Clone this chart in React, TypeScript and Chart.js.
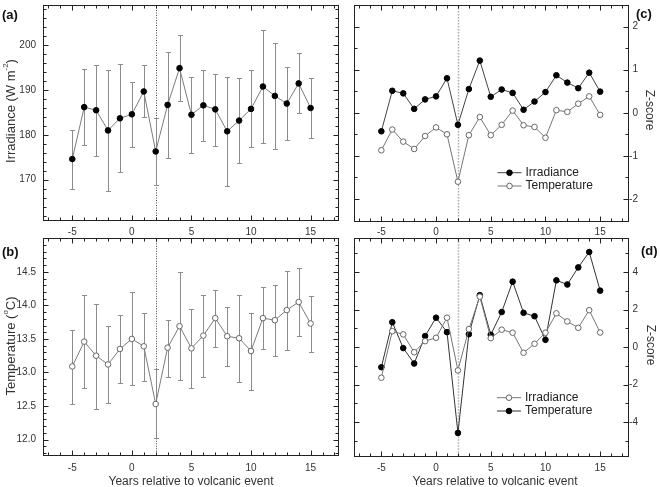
import React, { useEffect, useRef } from "react";
import { Chart, registerables } from "chart.js";

Chart.register(...registerables);

// ---------------- data ----------------
const years = [-5, -4, -3, -2, -1, 0, 1, 2, 3, 4, 5, 6, 7, 8, 9, 10, 11, 12, 13, 14, 15];
const eventYear = 2;
const xTickLabels = [-5, 0, 5, 10, 15];

// (a) irradiance (W m-2): mean and error bar ends
const irrMean = [174.6, 186.2, 185.5, 181.0, 183.7, 184.6, 189.7, 176.3, 186.7, 194.9, 184.5, 186.6, 185.7, 180.8, 183.2, 185.8, 190.8, 188.7, 187.0, 191.5, 186.0];
const irrHigh = [181.0, 194.7, 195.7, 194.5, 195.8, 191.7, 195.5, 183.7, 198.5, 202.2, 193.0, 194.4, 193.7, 193.0, 192.6, 194.4, 203.5, 200.5, 195.1, 198.2, 192.8];
const irrLow = [168.0, 177.7, 175.2, 167.5, 171.7, 177.4, 184.0, 168.9, 174.9, 187.5, 175.9, 178.7, 177.6, 168.5, 173.7, 177.3, 178.1, 176.8, 178.9, 184.8, 179.2];
const irrTicks = [170, 180, 190, 200];

// (b) temperature (°C)
const tempMean = [13.09, 13.46, 13.25, 13.12, 13.35, 13.5, 13.39, 12.53, 13.37, 13.69, 13.36, 13.55, 13.81, 13.54, 13.51, 13.32, 13.81, 13.78, 13.93, 14.05, 13.73];
const tempHigh = [13.63, 14.15, 14.02, 13.69, 13.85, 14.2, 13.88, 13.05, 13.78, 14.5, 13.95, 14.16, 14.23, 13.98, 14.16, 13.89, 14.27, 14.31, 14.52, 14.56, 14.14];
const tempLow = [12.53, 12.77, 12.46, 12.55, 12.85, 12.81, 12.88, 12.02, 12.94, 12.89, 12.77, 12.93, 13.38, 13.1, 12.86, 12.74, 13.35, 13.24, 13.33, 13.54, 13.31];
const tempTicks = [12.0, 12.5, 13.0, 13.5, 14.0, 14.5];

// (c) Z-scores
const zIrrC = [-0.43, 0.51, 0.45, 0.09, 0.31, 0.38, 0.8, -0.28, 0.55, 1.21, 0.37, 0.54, 0.46, 0.07, 0.26, 0.48, 0.87, 0.7, 0.57, 0.93, 0.49];
const zTempC = [-0.87, -0.39, -0.67, -0.84, -0.54, -0.34, -0.5, -1.6, -0.52, -0.1, -0.52, -0.28, 0.05, -0.29, -0.33, -0.58, 0.06, 0.02, 0.21, 0.38, -0.05];
const zTicksC = [-2, -1, 0, 1, 2];

// (d) Z-scores
const zIrrD = [-1.63, 0.85, 0.68, -0.27, 0.32, 0.5, 1.57, -1.24, 0.96, 2.69, 0.48, 0.93, 0.77, -0.3, 0.18, 0.77, 1.8, 1.37, 1.03, 1.97, 0.78];
const zTempD = [-1.07, 1.33, -0.05, -0.87, 0.59, 1.57, 0.8, -4.57, 0.69, 2.77, 0.66, 1.87, 3.49, 1.83, 1.65, 0.39, 3.56, 3.34, 4.25, 5.07, 3.01];
const zTicksD = [-4, -2, 0, 2, 4];

const xTitle = "Years relative to volcanic event";
const zTitle = "Z-score";

// ---------------- layout / style ----------------
const W = 660;
const H = 487;
const FONT = '"Liberation Sans", Arial, Helvetica, sans-serif';
const AXIS = "#222";
const TEXT = "#333";

const pts = (ys: number[]) => years.map((x, i) => ({ x, y: ys[i] }));

type Seg = { text: string; sup?: boolean };

type PanelCfg = {
  area: { l: number; t: number; r: number; b: number };
  x: [number, number];
  y: [number, number];
  yMajor: number[];
  yMinorStep: number;
  yDecimals: number;
  yLabelSide: "left" | "right";
  yLabelX: number;
  xLabelY: number;
  xTitlePos?: [number, number];
  yTitle: Seg[];
  yTitlePos: [number, number];
  yTitleAngle: number;
  tag: string;
  tagPos: [number, number];
  vline: { color: string; dash: number[]; width: number };
  errors?: { high: number[]; low: number[] };
  legend?: { x: number; y: number };
  datasets: any[];
};

const filled = (label: string, data: number[], line: string) => ({
  label,
  data: pts(data),
  borderColor: line,
  borderWidth: 1,
  pointRadius: 2.8,
  pointBackgroundColor: "#000",
  pointBorderColor: "#000",
  pointBorderWidth: 1,
  tension: 0,
});
const open = (label: string, data: number[], line: string, edge: string) => ({
  label,
  data: pts(data),
  borderColor: line,
  borderWidth: 1,
  pointRadius: 2.8,
  pointBackgroundColor: "#fff",
  pointBorderColor: edge,
  pointBorderWidth: 1,
  tension: 0,
});

const panels: PanelCfg[] = [
  {
    area: { l: 42.5, t: 1.5, r: 338, b: 220 },
    x: [-7.5, 17.3],
    y: [161, 209],
    yMajor: irrTicks,
    yMinorStep: 2,
    yDecimals: 0,
    yLabelSide: "left",
    yLabelX: 36,
    xLabelY: 232,
    yTitle: [{ text: "Irradiance (W m" }, { text: "-2", sup: true }, { text: ")" }],
    yTitlePos: [11, 111],
    yTitleAngle: -Math.PI / 2,
    tag: "(a)",
    tagPos: [2, 15],
    vline: { color: "#444", dash: [1, 1.5], width: 1 },
    errors: { high: irrHigh, low: irrLow },
    datasets: [filled("Irradiance", irrMean, "#7c7c7c")],
  },
  {
    area: { l: 42.5, t: 238.3, r: 338, b: 455 },
    x: [-7.5, 17.3],
    y: [11.77, 15.0],
    yMajor: tempTicks,
    yMinorStep: 0.1,
    yDecimals: 1,
    yLabelSide: "left",
    yLabelX: 36,
    xLabelY: 468,
    xTitlePos: [191, 482],
    yTitle: [{ text: "Temperature (" }, { text: "o", sup: true }, { text: "C)" }],
    yTitlePos: [11, 346],
    yTitleAngle: -Math.PI / 2,
    tag: "(b)",
    tagPos: [2, 252],
    vline: { color: "#444", dash: [1, 1.5], width: 1 },
    errors: { high: tempHigh, low: tempLow },
    datasets: [open("Temperature", tempMean, "#7c7c7c", "#666")],
  },
  {
    area: { l: 354, t: 1, r: 627.5, b: 220.5 },
    x: [-7.5, 17.5],
    y: [-2.5, 2.5],
    yMajor: zTicksC,
    yMinorStep: 0.5,
    yDecimals: 0,
    yLabelSide: "right",
    yLabelX: 638,
    xLabelY: 232,
    yTitle: [{ text: zTitle }],
    yTitlePos: [649, 110],
    yTitleAngle: Math.PI / 2,
    tag: "(c)",
    tagPos: [636, 14],
    vline: { color: "#aaa", dash: [1.5, 1.5], width: 1.5 },
    legend: { x: 497.5, y: 172.7 },
    datasets: [filled("Irradiance", zIrrC, "#444"), open("Temperature", zTempC, "#777", "#666")],
  },
  {
    area: { l: 354, t: 238.3, r: 627.5, b: 456 },
    x: [-7.5, 17.5],
    y: [-5.8, 5.8],
    yMajor: zTicksD,
    yMinorStep: 1,
    yDecimals: 0,
    yLabelSide: "right",
    yLabelX: 638,
    xLabelY: 468,
    xTitlePos: [495, 482],
    yTitle: [{ text: zTitle }],
    yTitlePos: [650, 345],
    yTitleAngle: Math.PI / 2,
    tag: "(d)",
    tagPos: [641, 251],
    vline: { color: "#aaa", dash: [1.5, 1.5], width: 1.5 },
    legend: { x: 497, y: 397.7 },
    datasets: [open("Irradiance", zIrrD, "#777", "#666"), filled("Temperature", zTempD, "#333")],
  },
];

// ---------------- drawing helpers ----------------
function steps(min: number, max: number, step: number): number[] {
  const out: number[] = [];
  const s = Math.ceil(min / step - 1e-9);
  const e = Math.floor(max / step + 1e-9);
  for (let i = s; i <= e; i++) out.push(+(i * step).toFixed(6));
  return out;
}
const isMajor = (v: number, majors: number[]) => majors.some((m) => Math.abs(m - v) < 1e-6);
const al = (v: number) => Math.round(v) + 0.5;

function drawRich(ctx: CanvasRenderingContext2D, segs: Seg[], cx: number, cy: number, angle: number, size: number) {
  ctx.save();
  ctx.translate(cx, cy);
  ctx.rotate(angle);
  const supSize = Math.round(size * 0.65);
  let total = 0;
  const widths = segs.map((s) => {
    ctx.font = `${s.sup ? supSize : size}px ${FONT}`;
    const w = ctx.measureText(s.text).width;
    total += w;
    return w;
  });
  let x = -total / 2;
  ctx.textAlign = "left";
  ctx.textBaseline = "middle";
  ctx.fillStyle = TEXT;
  segs.forEach((s, i) => {
    ctx.font = `${s.sup ? supSize : size}px ${FONT}`;
    ctx.fillText(s.text, x, s.sup ? -size * 0.38 : 0);
    x += widths[i];
  });
  ctx.restore();
}

function makePlugin(p: PanelCfg) {
  return {
    id: "panelDecor",
    beforeDatasetsDraw(chart: any) {
      const { ctx, chartArea } = chart;
      const xs = chart.scales.x;
      const ys = chart.scales.y;
      ctx.save();
      // event line
      const vx = al(xs.getPixelForValue(eventYear));
      ctx.strokeStyle = p.vline.color;
      ctx.lineWidth = p.vline.width;
      ctx.setLineDash(p.vline.dash);
      ctx.beginPath();
      ctx.moveTo(vx, chartArea.top);
      ctx.lineTo(vx, chartArea.bottom);
      ctx.stroke();
      ctx.setLineDash([]);
      // error bars
      if (p.errors) {
        ctx.strokeStyle = "#8c8c8c";
        ctx.lineWidth = 1;
        years.forEach((yr, i) => {
          const px = al(xs.getPixelForValue(yr));
          const hi = Math.round(ys.getPixelForValue(p.errors!.high[i])) + 0.5;
          const lo = Math.round(ys.getPixelForValue(p.errors!.low[i])) + 0.5;
          ctx.beginPath();
          ctx.moveTo(px, hi);
          ctx.lineTo(px, lo);
          ctx.moveTo(px - 2.5, hi);
          ctx.lineTo(px + 2.5, hi);
          ctx.moveTo(px - 2.5, lo);
          ctx.lineTo(px + 2.5, lo);
          ctx.stroke();
        });
      }
      ctx.restore();
    },
    afterDatasetsDraw(chart: any) {
      const { ctx, chartArea } = chart;
      const xs = chart.scales.x;
      const ys = chart.scales.y;
      const L = al(chartArea.left);
      const R = al(chartArea.right);
      const T = al(chartArea.top);
      const B = al(chartArea.bottom);
      ctx.save();
      ctx.strokeStyle = AXIS;
      ctx.lineWidth = 1;
      ctx.strokeRect(L, T, R - L, B - T);
      ctx.beginPath();
      // x ticks (major every 5, minor every 1), inward on top and bottom
      steps(p.x[0], p.x[1], 1).forEach((v) => {
        const px = al(xs.getPixelForValue(v));
        const len = v % 5 === 0 ? 5 : 3;
        ctx.moveTo(px, B);
        ctx.lineTo(px, B - len);
        ctx.moveTo(px, T);
        ctx.lineTo(px, T + len);
      });
      // y ticks, inward on left and right
      steps(p.y[0], p.y[1], p.yMinorStep).forEach((v) => {
        const py = al(ys.getPixelForValue(v));
        const len = isMajor(v, p.yMajor) ? 5 : 3;
        ctx.moveTo(L, py);
        ctx.lineTo(L + len, py);
        ctx.moveTo(R, py);
        ctx.lineTo(R - len, py);
      });
      ctx.stroke();

      // tick labels
      ctx.fillStyle = TEXT;
      ctx.font = `10px ${FONT}`;
      ctx.textBaseline = "middle";
      ctx.textAlign = "center";
      xTickLabels.forEach((v) => {
        ctx.fillText(String(v), xs.getPixelForValue(v), p.xLabelY);
      });
      ctx.textAlign = "right";
      p.yMajor.forEach((v) => {
        ctx.fillText(v.toFixed(p.yDecimals), p.yLabelX, ys.getPixelForValue(v));
      });

      // titles
      if (p.xTitlePos) {
        ctx.font = `12px ${FONT}`;
        ctx.textAlign = "center";
        ctx.fillText(xTitle, p.xTitlePos[0], p.xTitlePos[1]);
      }
      drawRich(ctx, p.yTitle, p.yTitlePos[0], p.yTitlePos[1], p.yTitleAngle, p.yLabelSide === "left" ? 13 : 12);

      // panel tag
      ctx.fillStyle = "#111";
      ctx.font = `bold 13px ${FONT}`;
      ctx.textAlign = "left";
      ctx.textBaseline = "middle";
      ctx.fillText(p.tag, p.tagPos[0], p.tagPos[1]);

      // legend
      if (p.legend) {
        chart.data.datasets.forEach((ds: any, i: number) => {
          const y = p.legend!.y + i * 13.3;
          const x0 = p.legend!.x;
          ctx.strokeStyle = ds.borderColor;
          ctx.lineWidth = 1;
          ctx.beginPath();
          ctx.moveTo(x0, y);
          ctx.lineTo(x0 + 24, y);
          ctx.stroke();
          ctx.beginPath();
          ctx.arc(x0 + 12, y, 2.8, 0, Math.PI * 2);
          ctx.fillStyle = ds.pointBackgroundColor;
          ctx.fill();
          ctx.strokeStyle = ds.pointBorderColor;
          ctx.stroke();
          ctx.fillStyle = "#222";
          ctx.font = `12px ${FONT}`;
          ctx.textAlign = "left";
          ctx.fillText(ds.label, x0 + 28, y);
        });
      }
      ctx.restore();
    },
  };
}

function Panel({ cfg }: { cfg: PanelCfg }) {
  const ref = useRef<HTMLCanvasElement | null>(null);
  useEffect(() => {
    if (!ref.current) return;
    const a = cfg.area;
    const chart = new Chart(ref.current, {
      type: "line",
      data: { datasets: cfg.datasets },
      options: {
        animation: false,
        responsive: false,
        maintainAspectRatio: false,
        devicePixelRatio: 1,
        layout: { padding: { left: a.l, top: a.t, right: W - a.r, bottom: H - a.b } },
        scales: {
          x: { type: "linear", min: cfg.x[0], max: cfg.x[1], display: false },
          y: { type: "linear", min: cfg.y[0], max: cfg.y[1], display: false },
        },
        plugins: { legend: { display: false }, tooltip: { enabled: false } },
      },
      plugins: [makePlugin(cfg)],
    } as any);
    return () => chart.destroy();
  }, [cfg]);
  return (
    <canvas
      ref={ref}
      width={W}
      height={H}
      style={{ position: "absolute", left: 0, top: 0, width: W, height: H }}
    />
  );
}

export default function App() {
  return (
    <div
      style={{
        position: "fixed",
        left: 0,
        top: 0,
        width: W,
        height: H,
        background: "#fff",
        overflow: "hidden",
      }}
    >
      {panels.map((p, i) => (
        <Panel key={i} cfg={p} />
      ))}
    </div>
  );
}
